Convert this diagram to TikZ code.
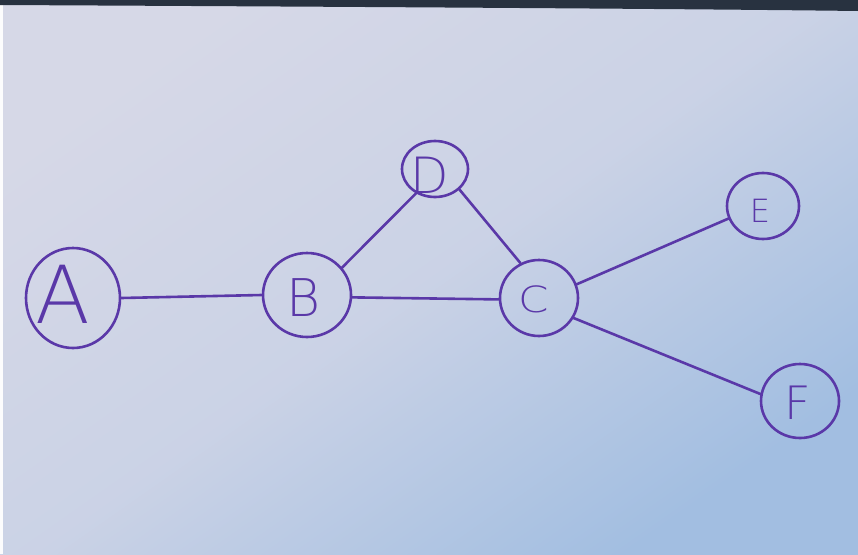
\documentclass[tikz,border=0pt]{standalone}
\usepackage{fontspec}
\newfontfamily\hand{DejaVu Sans ExtraLight}
\usetikzlibrary{shapes.geometric}
\definecolor{pen}{HTML}{5A38A8}
\definecolor{bgTL}{RGB}{214,216,231}
\definecolor{bgBR}{RGB}{162,190,225}
\definecolor{edgeDark}{RGB}{40,50,64}
\tikzset{
  vtx/.style={draw=pen, line width=2.6pt, ellipse, inner sep=0pt},
  lbl/.style={text=pen, inner sep=0pt, font=\hand},
  edge/.style={draw=pen, line width=2.6pt, line cap=round}
}
\begin{document}
\begin{tikzpicture}[x=1pt,y=-1pt]
\useasboundingbox (0,0) rectangle (858,554);
% paper background
\shade[top color=bgTL, bottom color=bgBR, middle color=bgTL!78!bgBR, shading angle=35] (0,0) rectangle (858,554);
\fill[white!92!bgTL] (0,0) rectangle (3,554);
\fill[edgeDark] (0,0) -- (858,0) -- (858,11) .. controls (700,9) and (400,7) .. (0,5) -- cycle;
% vertices
\node[vtx, minimum width=94pt, minimum height=100pt] (A) at (73,298) {};
\node[vtx, minimum width=88pt, minimum height=84pt] (B) at (307,295) {};
\node[vtx, minimum width=66pt, minimum height=56pt] (D) at (435,169) {};
\node[vtx, minimum width=78pt, minimum height=76pt] (C) at (539,298) {};
\node[vtx, minimum width=72pt, minimum height=66pt] (E) at (763,206) {};
\node[vtx, minimum width=78pt, minimum height=74pt] (F) at (800,401) {};
% labels
\node[lbl, font=\hand\fontsize{80}{80}\selectfont] (lA) at (63,294) {A};
\node[lbl, font=\hand\fontsize{52}{52}\selectfont] (lB) at (304,298) {B};
\node[lbl, font=\hand\fontsize{50}{50}\selectfont] (lD) at (430,175) {D};
\node[lbl, font=\hand\fontsize{38}{38}\selectfont] (lC) at (534,299) {\scalebox{1.15}[0.95]{C}};
\node[lbl, font=\hand\fontsize{32}{32}\selectfont] (lE) at (760,211) {E};
\node[lbl, font=\hand\fontsize{46}{46}\selectfont] (lF) at (798,403) {F};
% edges
\draw[edge] (A.east) -- (B.west);
\draw[edge] (B.38) -- (D.232);
\draw[edge] (D.-40) -- (C.118);
\draw[edge] (B.-3) -- (C.182);
\draw[edge] (C.20) -- (E.200);
\draw[edge] (C.-30) -- (F.170);
\end{tikzpicture}
\end{document}
